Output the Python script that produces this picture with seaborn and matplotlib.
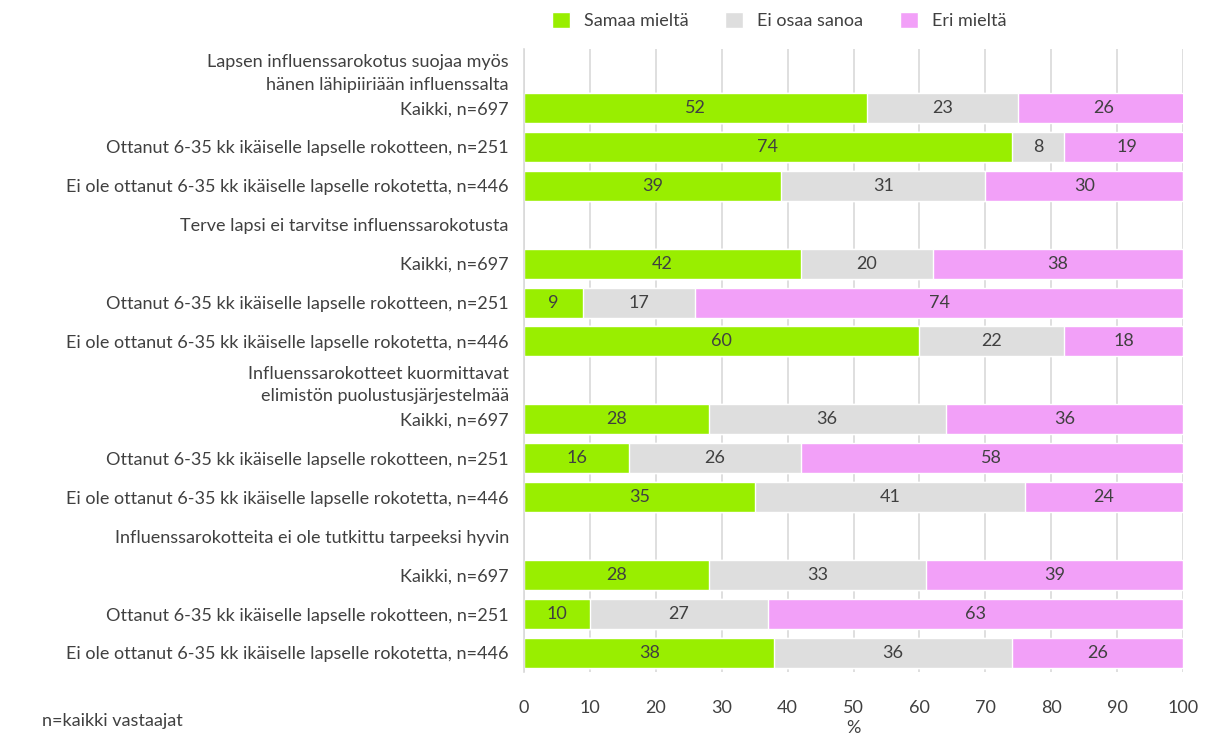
"""
Stacked horizontal bars: attitudes towards child influenza vaccination.
"""

import numpy as np
import pandas as pd
import seaborn as sns
import matplotlib.pyplot as plt

# Data (None = header row, no bar)
row_labels = [
    "Lapsen influenssarokotus suojaa myös\nhänen lähipiiriään influenssalta",
    "Kaikki, n=697",
    "Ottanut 6-35 kk ikäiselle lapselle rokotteen, n=251",
    "Ei ole ottanut 6-35 kk ikäiselle lapselle rokotetta, n=446",
    "Terve lapsi ei tarvitse influenssarokotusta",
    "Kaikki, n=697",
    "Ottanut 6-35 kk ikäiselle lapselle rokotteen, n=251",
    "Ei ole ottanut 6-35 kk ikäiselle lapselle rokotetta, n=446",
    "Influenssarokotteet kuormittavat\nelimistön puolustusjärjestelmää",
    "Kaikki, n=697",
    "Ottanut 6-35 kk ikäiselle lapselle rokotteen, n=251",
    "Ei ole ottanut 6-35 kk ikäiselle lapselle rokotetta, n=446",
    "Influenssarokotteita ei ole tutkittu tarpeeksi hyvin",
    "Kaikki, n=697",
    "Ottanut 6-35 kk ikäiselle lapselle rokotteen, n=251",
    "Ei ole ottanut 6-35 kk ikäiselle lapselle rokotetta, n=446",
]
samaa = [None, 52, 74, 39, None, 42, 9, 60, None, 28, 16, 35, None, 28, 10, 38]
ei_osaa = [None, 23, 8, 31, None, 20, 17, 22, None, 36, 26, 41, None, 33, 27, 36]
eri = [None, 26, 19, 30, None, 38, 74, 18, None, 36, 58, 24, None, 39, 63, 26]

series_names = ["Samaa mieltä", "Ei osaa sanoa", "Eri mieltä"]
colors = ["#99ee00", "#dedede", "#f2a0f8"]
text_color = "#404040"

sns.set_theme(style="white")
plt.rcParams["font.family"] = ["Lato", "DejaVu Sans"]

df = pd.DataFrame({
    "key": [f"r{i}" for i in range(len(row_labels))],
    "s1": [np.nan if v is None else v for v in samaa],
    "s2": [np.nan if v is None else v for v in ei_osaa],
    "s3": [np.nan if v is None else v for v in eri],
})
df["c1"] = df["s1"]
df["c2"] = df["s1"] + df["s2"]
df["c3"] = df["c2"] + df["s3"]

fig = plt.figure(figsize=(12.08, 7.38), dpi=100)
ax = fig.add_axes([0.4338, 0.0888, 0.5455, 0.8442])

# overlay cumulative bars, widest first
for col, color, name in zip(["c3", "c2", "c1"], colors[::-1], series_names[::-1]):
    sns.barplot(data=df, x=col, y="key", order=df["key"],
                color=color, width=0.77, saturation=1, errorbar=None,
                label=name, ax=ax, zorder=2)

# segment value labels
for i, row in df.iterrows():
    left = 0
    for s in ["s1", "s2", "s3"]:
        v = row[s]
        if np.isnan(v):
            continue
        ax.text(left + v / 2, i, f"{int(v)}", ha="center", va="center",
                fontsize=13, color=text_color, zorder=3)
        left += v

ax.set_xlim(0, 100)
ax.set_ylim(15.5, -0.5)
ax.set_xticks(range(0, 101, 10))
ax.set_yticks(range(len(row_labels)))
ax.set_yticklabels(row_labels, linespacing=1.5)
ax.tick_params(axis="both", length=0, labelsize=13, labelcolor=text_color)
ax.tick_params(axis="x", pad=20)
ax.tick_params(axis="y", pad=11)
ax.set_xlabel("%", fontsize=13, color=text_color, labelpad=3)
ax.set_ylabel("")
ax.grid(axis="x", color="#d9d9d9", linewidth=1.2, zorder=0)
ax.set_axisbelow(True)
for side in ["top", "right", "bottom"]:
    ax.spines[side].set_visible(False)
ax.spines["left"].set_color("#d9d9d9")
ax.spines["left"].set_linewidth(1.2)

handles, labels = ax.get_legend_handles_labels()
order = [labels.index(n) for n in series_names]
fig.legend([handles[k] for k in order], series_names, loc="center",
           bbox_to_anchor=(0.645, 0.972), ncol=3, frameon=False, fontsize=13,
           handlelength=1.0, handleheight=1.0, handletextpad=0.8, columnspacing=2.0,
           labelcolor=text_color)
if ax.get_legend() is not None:
    ax.get_legend().remove()

fig.text(0.035, 0.016, "n=kaikki vastaajat", fontsize=13, color=text_color)

fig.savefig("out.png", dpi=100)
